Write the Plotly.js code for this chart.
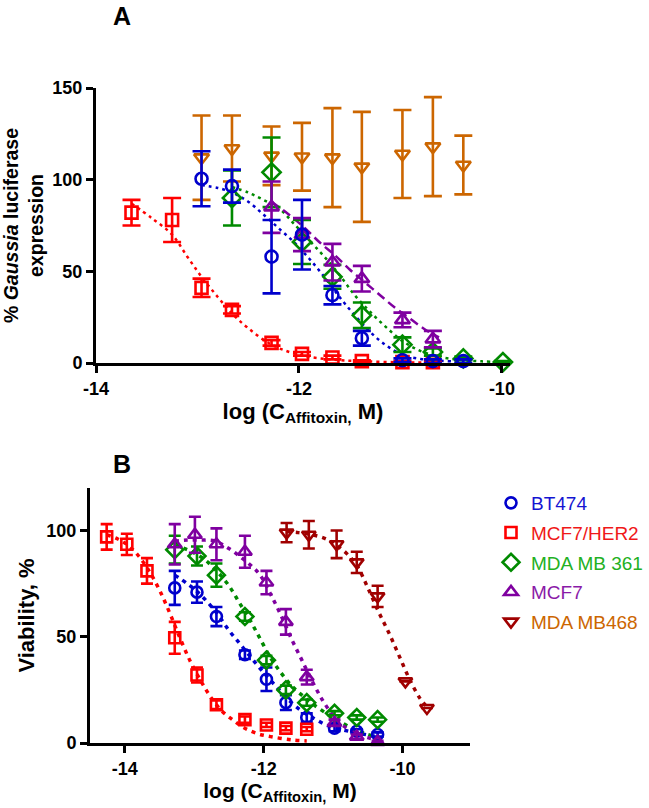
<!DOCTYPE html>
<html><head><meta charset="utf-8">
<script src="https://cdn.plot.ly/plotly-3.0.1.min.js"></script>
<style>html,body{margin:0;padding:0;background:#fff}#chart{width:649px;height:808px}</style>
</head><body><div id="chart"></div>
<script>
// ---------------- Panel A: % Gaussia luciferase expression ----------------
const aBtX   = [-12.96, -12.66, -12.27, -11.97, -11.67, -11.38, -10.98, -10.68, -10.38];
const aBtY   = [100.5, 96.5, 58, 70, 37, 13.5, 1.5, 1, 1];
const aBtE   = [15, 9, 20, 19, 5, 4, 1, 1, 1];
const aBtFitX = [-12.96, -12.8, -12.66, -12.5, -12.35, -12.19, -12.05, -11.9, -11.75, -11.6, -11.45, -11.3, -11.15, -10.98, -10.8, -10.6, -10.38];
const aBtFitY = [97, 95.5, 93, 88, 81, 73, 66, 57, 47, 36, 26, 17, 10, 4.5, 2.2, 1.2, 0.6];

const aHerX  = [-13.65, -13.25, -12.96, -12.66, -12.27, -11.97, -11.67, -11.38, -10.98, -10.68];
const aHerY  = [82, 78, 41, 29, 11, 5, 3, 1, 0.5, 0.5];
const aHerE  = [7, 12, 5, 2, 1.5, 1, 1, 0.5, 0.5, 0.5];
const aHerFitX = [-13.65, -13.45, -13.25, -13.1, -12.96, -12.8, -12.66, -12.5, -12.27, -12.0, -11.7, -11.4, -11.0, -10.68];
const aHerFitY = [87, 79, 70, 58, 47, 36, 27, 19, 10, 4.5, 2, 1, 0.4, 0.2];

const a361X  = [-12.66, -12.27, -11.97, -11.67, -11.38, -10.98, -10.68, -10.38, -9.99];
const a361Y  = [90, 104, 66, 47, 26, 10, 6, 2.5, 0.5];
const a361E  = [15, 19, 12, 6.5, 7, 4, 2, 1, 0.5];
const a361FitX = [-12.66, -12.5, -12.35, -12.19, -12.05, -11.9, -11.75, -11.6, -11.45, -11.3, -11.15, -10.98, -10.8, -10.6, -10.4, -10.2, -9.99];
const a361FitY = [96, 93, 89, 84, 76, 67, 58, 48, 37, 28, 20, 12, 6.5, 3.2, 1.6, 0.9, 0.5];

const aMcfX  = [-12.27, -11.97, -11.67, -11.38, -10.98, -10.68];
const aMcfY  = [85, 70, 55, 46, 23.5, 13];
const aMcfE  = [14, 9, 10, 7, 4, 4.5];
const aMcfFitX = [-12.27, -12.1, -11.95, -11.8, -11.65, -11.5, -11.35, -11.2, -11.05, -10.9, -10.75, -10.62];
const aMcfFitY = [88, 81, 74, 66, 59, 51, 44, 37, 30, 24, 18, 14];

const a468X  = [-12.96, -12.66, -12.27, -11.97, -11.67, -11.38, -10.98, -10.68, -10.38];
const a468Y  = [112, 117, 113, 112.5, 112, 107, 114, 118, 108];
const a468E  = [23, 18, 16, 18.5, 27, 30, 24, 27, 16];

// ---------------- Panel B: Viability, % ----------------
const bBtX   = [-13.28, -12.96, -12.68, -12.27, -11.96, -11.68, -11.38, -10.98, -10.66, -10.36];
const bBtY   = [73, 71, 59.5, 41.5, 30, 19, 12, 7, 5.5, 4];
const bBtE   = [8, 5, 4.5, 2, 5.5, 3.5, 2, 1.5, 1, 1];
const bBtFitX = [-13.28, -13.1, -12.95, -12.8, -12.65, -12.5, -12.35, -12.2, -12.05, -11.9, -11.75, -11.6, -11.45, -11.3, -11.1, -10.9, -10.7, -10.5, -10.36];
const bBtFitY = [79, 75, 71, 66, 60, 53, 47, 41, 35, 29.5, 24, 19, 15, 12, 8.5, 6.5, 5, 3.8, 3];

const bHerX  = [-14.26, -13.97, -13.68, -13.28, -12.96, -12.68, -12.27, -11.96, -11.68, -11.38];
const bHerY  = [97, 93.5, 81, 49.5, 32, 18, 11, 8.5, 7, 6.5];
const bHerE  = [6, 5, 6, 7.5, 3.5, 2, 1.5, 1, 1, 1];
const bHerFitX = [-14.26, -14.1, -13.95, -13.8, -13.65, -13.5, -13.35, -13.2, -13.05, -12.9, -12.75, -12.6, -12.45, -12.3, -12.1, -11.9, -11.6, -11.38];
const bHerFitY = [98, 96, 93, 88, 81, 72, 61, 49, 38, 29, 21, 15, 11, 7.5, 4.5, 3, 1.5, 1];

const b361X  = [-13.28, -12.96, -12.68, -12.27, -11.96, -11.68, -11.38, -10.98, -10.66, -10.36];
const b361Y  = [91, 88, 79, 59.5, 39, 25, 19, 14, 12, 11];
const b361E  = [6.5, 4.5, 5.5, 2, 2, 2, 1.5, 1, 1, 1];
const b361FitX = [-13.28, -13.1, -12.95, -12.8, -12.65, -12.5, -12.35, -12.2, -12.05, -11.9, -11.75, -11.6, -11.45, -11.3, -11.1, -10.9, -10.7, -10.5, -10.36];
const b361FitY = [93, 91, 88.5, 85, 80, 74, 66, 58, 49, 40, 33, 27, 22.5, 18.5, 14, 10, 6.5, 4, 3];

const bMcfX  = [-13.28, -12.99, -12.68, -12.27, -11.96, -11.68, -11.38, -10.98, -10.66, -10.36];
const bMcfY  = [93.5, 98, 93.5, 90, 75.5, 57, 31, 9.5, 3, 0.5];
const bMcfE  = [9.5, 8.5, 7.5, 7.5, 5.5, 6, 3.5, 1.5, 1, 0.5];
const bMcfFitX = [-13.28, -13.1, -12.9, -12.7, -12.5, -12.35, -12.2, -12.05, -11.9, -11.75, -11.6, -11.45, -11.3, -11.15, -11.0, -10.85, -10.7, -10.5, -10.36];
const bMcfFitY = [95, 95.5, 95.5, 95, 91.5, 88, 84, 79, 70, 60, 49, 39, 29, 20, 13, 8, 5, 2.5, 1.5];

const b468X  = [-11.67, -11.35, -10.95, -10.66, -10.36, -9.96, -9.65];
const b468Y  = [99, 98, 93.5, 85, 69, 29, 16.5];
const b468E  = [4.5, 6.5, 6.5, 5, 5, 0, 0];
const b468FitX = [-11.67, -11.5, -11.3, -11.1, -10.95, -10.8, -10.65, -10.5, -10.35, -10.2, -10.05, -9.9, -9.75, -9.65];
const b468FitY = [99.5, 99, 98, 96, 93, 89, 83, 73, 62, 52, 41, 30, 21, 17];

const seriesNames = ['BT474', 'MCF7/HER2', 'MDA MB 361', 'MCF7', 'MDA MB468'];
const legendTextColors = ['#1414D2', '#F01818', '#22B022', '#8A1AA8', '#CC6600'];

const xTickVals = [-14, -12, -10];
const aYTickVals = [0, 50, 100, 150];
const bYTickVals = [0, 50, 100];

// ---------------- styling ----------------
const C = {blue:'#0000CC', red:'#FF0000', green:'#008A00', purple:'#7F00A0', orange:'#CC6600', dark:'#A00000'};
const FONT = 'Liberation Sans, Arial, sans-serif';

function pts(x, y, e, color, symbol, xa, ya, size, capw, opts) {
  return Object.assign({
    type:'scatter', mode:'markers', x:x, y:y, xaxis:xa, yaxis:ya,
    cliponaxis:false, showlegend:false, hoverinfo:'skip',
    marker:{symbol:symbol, size:size, color:color, line:{color:color, width:2.6}},
    error_y:{type:'data', array:e, visible:true, color:color, thickness:2.6, width:capw}
  }, opts || {});
}
function fit(x, y, color, dash, width, xa, ya) {
  return {type:'scatter', mode:'lines', x:x, y:y, xaxis:xa, yaxis:ya,
    cliponaxis:false, showlegend:false, hoverinfo:'skip',
    line:{color:color, width:width, dash:dash, shape:'spline', smoothing:1}};
}
function leg(i) {
  return {name:'<span style="color:' + legendTextColors[i] + '">' + seriesNames[i] + '</span>',
          showlegend:true, legendgroup:'g' + i};
}

const dotA = '3px,4px', dashA = '9px,5px', dotB = '4px,5px';
const data = [
  // Panel A
  fit(aHerFitX, aHerFitY, C.red, dotA, 2.5, 'x', 'y'),
  fit(aBtFitX, aBtFitY, C.blue, dotA, 2.5, 'x', 'y'),
  fit(a361FitX, a361FitY, C.green, dotA, 2.5, 'x', 'y'),
  fit(aMcfFitX, aMcfFitY, C.purple, dashA, 2.5, 'x', 'y'),
  pts(a468X, a468Y, a468E, C.orange, 'triangle-down-open', 'x', 'y', 13, 9),
  pts(aHerX, aHerY, aHerE, C.red, 'square-open', 'x', 'y', 12, 9),
  pts(a361X, a361Y, a361E, C.green, 'diamond-open', 'x', 'y', 14, 9),
  pts(aMcfX, aMcfY, aMcfE, C.purple, 'triangle-up-open', 'x', 'y', 13, 9),
  pts(aBtX, aBtY, aBtE, C.blue, 'circle-open', 'x', 'y', 12, 9),
  // Panel B
  fit(bHerFitX, bHerFitY, C.red, dotB, 3.5, 'x2', 'y2'),
  fit(bBtFitX, bBtFitY, C.blue, dotB, 3.5, 'x2', 'y2'),
  fit(b361FitX, b361FitY, C.green, dotB, 3.5, 'x2', 'y2'),
  fit(bMcfFitX, bMcfFitY, C.purple, dotB, 3.5, 'x2', 'y2'),
  fit(b468FitX, b468FitY, C.dark, dotB, 3.5, 'x2', 'y2'),
  pts(bBtX, bBtY, bBtE, C.blue, 'circle-open', 'x2', 'y2', 11, 6, leg(0)),
  pts(bHerX, bHerY, bHerE, C.red, 'square-open', 'x2', 'y2', 11, 6, leg(1)),
  pts(b361X, b361Y, b361E, C.green, 'diamond-open', 'x2', 'y2', 13, 6, leg(2)),
  pts(bMcfX, bMcfY, bMcfE, C.purple, 'triangle-up-open', 'x2', 'y2', 12, 6, leg(3)),
  pts(b468X, b468Y, b468E, C.dark, 'triangle-down-open', 'x2', 'y2', 12, 6, leg(4))
];

const W = 649, H = 808;
const tickFont = {family:FONT, size:18, color:'#000', weight:'bold'};
function xAxis(dom, rng, ya, titleSize) {
  return {domain:[dom[0]/W, dom[1]/W], range:rng, anchor:ya, showline:true, linewidth:3, linecolor:'#000',
    ticks:'outside', ticklen:7, tickwidth:3, tickcolor:'#000', tickvals:xTickVals, ticktext:xTickVals.map(String),
    showgrid:false, zeroline:false, automargin:false, tickfont:tickFont,
    title:{text:'log (C<sub>Affitoxin,</sub> M)', font:{family:FONT, size:titleSize, color:'#000', weight:'bold'}, standoff:6}};
}
function yAxis(dom, rng, xa, tv, title, titleSize) {
  return {domain:[1 - dom[1]/H, 1 - dom[0]/H], range:rng, anchor:xa, showline:true, linewidth:3, linecolor:'#000',
    ticks:'outside', ticklen:7, tickwidth:3, tickcolor:'#000', tickvals:tv, ticktext:tv.map(String),
    showgrid:false, zeroline:false, automargin:false, tickfont:tickFont,
    title:{text:title, font:{family:FONT, size:titleSize, color:'#000', weight:'bold'}, standoff:6}};
}

const layout = {
  width:W, height:H, margin:{l:0, r:0, t:0, b:0}, paper_bgcolor:'#fff', plot_bgcolor:'rgba(0,0,0,0)',
  font:{family:FONT, color:'#000'},
  xaxis: xAxis([96, 510], [-14, -9.92], 'y', 22),
  yaxis: yAxis([88, 363], [0, 150], 'x', aYTickVals, '% <i>Gaussia</i> luciferase<br>expression', 19.5),
  xaxis2: xAxis([90, 470], [-14.5, -9.03], 'y2', 21),
  yaxis2: yAxis([488, 743], [0, 120], 'x2', bYTickVals, 'Viability, %', 22),
  showlegend:true,
  legend:{x:491/W, y:1 - 484/H, xanchor:'left', yanchor:'top', bgcolor:'rgba(0,0,0,0)',
    font:{family:FONT, size:19}, traceorder:'grouped', tracegroupgap:2, itemclick:false},
  annotations:[
    {text:'A', xref:'paper', yref:'paper', x:122/W, y:1 - 16/H, showarrow:false, xanchor:'center', yanchor:'middle',
     font:{family:FONT, size:25, color:'#000', weight:'bold'}},
    {text:'B', xref:'paper', yref:'paper', x:122/W, y:1 - 464/H, showarrow:false, xanchor:'center', yanchor:'middle',
     font:{family:FONT, size:25, color:'#000', weight:'bold'}}
  ]
};

Plotly.newPlot('chart', data, layout, {staticPlot:true, displayModeBar:false});
</script>
</body></html>
